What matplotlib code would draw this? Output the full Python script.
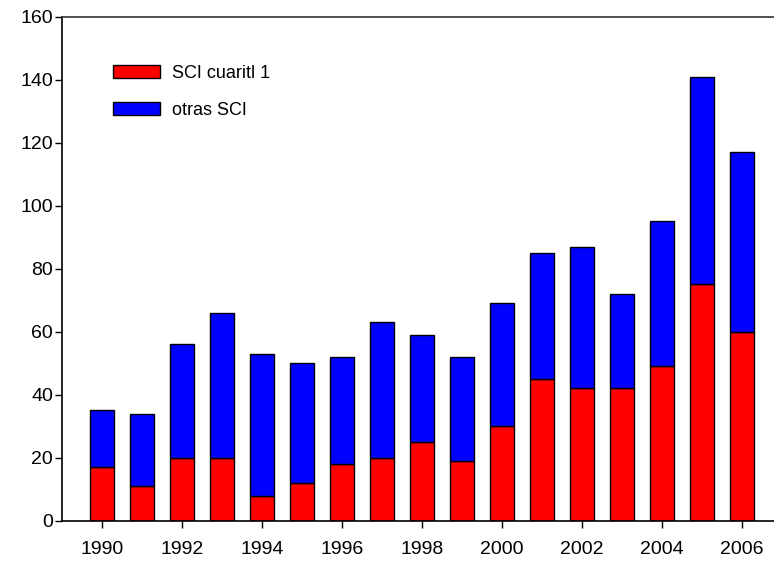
import numpy as np
import matplotlib
matplotlib.use('Agg')
import matplotlib.pyplot as plt

plt.rcParams['font.family'] = ['Liberation Sans', 'DejaVu Sans']

years = np.arange(1990, 2007)
cuartil1 = [17, 11, 20, 20, 8, 12, 18, 20, 25, 19, 30, 45, 42, 42, 49, 75, 60]
total = [35, 34, 56, 66, 53, 50, 52, 63, 59, 52, 69, 85, 87, 72, 95, 141, 117]
otras = [t - c for t, c in zip(total, cuartil1)]

fig = plt.figure(figsize=(7.74, 5.62), dpi=100)
ax = fig.add_axes([62/774, 41.3/562, 712/774, 504/562])

ax.bar(years, cuartil1, width=0.6, color='#ff0000', edgecolor='black', linewidth=1,
       label='SCI cuaritl 1')
ax.bar(years, otras, bottom=cuartil1, width=0.6, color='#0000ff', edgecolor='black',
       linewidth=1, label='otras SCI')

ax.set_xlim(1989, 2006.8)
ax.set_ylim(0, 160)
ax.set_xticks(np.arange(1990, 2007, 2))
ax.set_yticks(np.arange(0, 161, 20))

ax.spines['right'].set_visible(False)
for s in ['left', 'bottom', 'top']:
    ax.spines[s].set_linewidth(1.2)
ax.spines['top'].set_color('#333333')

ax.tick_params(axis='both', direction='out', length=5, width=1, labelsize=14)
ax.tick_params(axis='y', pad=1.5)
ax.tick_params(axis='x', pad=9.5)

ax.legend(loc='upper left', bbox_to_anchor=(0.0716, 0.905), frameon=False,
          fontsize=13, handlelength=2.6, handleheight=0.8, handletextpad=0.65,
          labelspacing=1.1, borderpad=0, borderaxespad=0)

fig.savefig('out.png', dpi=100)
